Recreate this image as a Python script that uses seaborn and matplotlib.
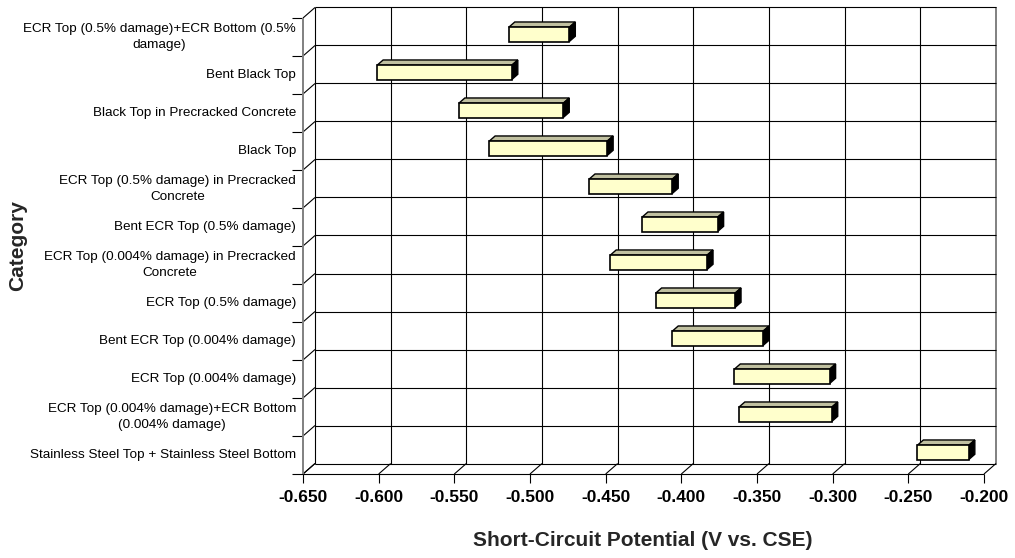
import numpy as np
import pandas as pd
import matplotlib
matplotlib.use("Agg")
import matplotlib.pyplot as plt
from matplotlib.patches import Polygon
import seaborn as sns

# ---------------- data ----------------
categories = [
    "ECR Top (0.5% damage)+ECR Bottom (0.5%\ndamage)",
    "Bent Black Top",
    "Black Top in Precracked Concrete",
    "Black Top",
    "ECR Top (0.5% damage) in Precracked\nConcrete",
    "Bent ECR Top (0.5% damage)",
    "ECR Top (0.004% damage) in Precracked\nConcrete",
    "ECR Top (0.5% damage)",
    "Bent ECR Top (0.004% damage)",
    "ECR Top (0.004% damage)",
    "ECR Top (0.004% damage)+ECR Bottom\n(0.004% damage)",
    "Stainless Steel Top + Stainless Steel Bottom",
]
low_values = [-0.516, -0.603, -0.549, -0.529, -0.463, -0.428,
              -0.449, -0.419, -0.408, -0.367, -0.364, -0.246]
high_values = [-0.476, -0.514, -0.480, -0.451, -0.408, -0.378,
               -0.385, -0.3665, -0.348, -0.304, -0.3026, -0.212]
x_ticks = [-0.65, -0.60, -0.55, -0.50, -0.45, -0.40, -0.35, -0.30, -0.25, -0.20]
x_tick_labels = ["-0.650", "-0.600", "-0.550", "-0.500", "-0.450",
                 "-0.400", "-0.350", "-0.300", "-0.250", "-0.200"]
x_title = "Short-Circuit Potential (V vs. CSE)"
y_title = "Category"

# ---------------- layout ----------------
W, H, DPI = 1015, 558, 100
DX, DY = 12.0, 10.5          # depth offset (px) from front to back wall
BAR_H = 0.376                # bar thickness in category units
FACE_D, BACK_D = 0.25, 0.75  # bar depth span

sns.set_theme(style="white")
plt.rcParams["font.family"] = ["Liberation Sans", "DejaVu Sans"]

fig = plt.figure(figsize=(W / DPI, H / DPI), dpi=DPI)
# axes = plane of bar front faces (depth 0.25)
fx0, fx1 = 303 + DX * FACE_D, 984 + DX * FACE_D
fy0, fy1 = 18 - DY * FACE_D, 474 - DY * FACE_D
ax = fig.add_axes([fx0 / W, 1 - fy1 / H, (fx1 - fx0) / W, (fy1 - fy0) / H])

df = pd.DataFrame({"category": categories, "low": low_values, "high": high_values})
df["span"] = df["high"] - df["low"]

sns.barplot(data=df, x="span", y="category", order=categories, orient="y",
            left=df["low"].values, width=BAR_H, color="#FFFFCC", saturation=1,
            edgecolor="black", linewidth=1.2, errorbar=None, ax=ax, zorder=6)

n = len(categories)
ax.set_xlim(x_ticks[0], x_ticks[-1])
ax.set_ylim(n - 0.5, -0.5)
ax.set_axis_off()


def P(x, y, d, px=0.0, py=0.0):
    disp = ax.transData.transform((x, y))
    disp = disp + np.array([DX * (d - FACE_D) + px, DY * (d - FACE_D) + py])
    return ax.transData.inverted().transform(disp)


def line(p, q, color="black", lw=0.8, z=1):
    ax.plot([p[0], q[0]], [p[1], q[1]], color=color, lw=lw, zorder=z,
            clip_on=False, solid_capstyle="butt")


xa, xb = x_ticks[0], x_ticks[-1]
ya, yb = -0.5, n - 0.5
bounds = np.arange(-0.5, n, 1.0)

# back wall grid
for xt in x_ticks:
    col, lw = ("#808080", 1.4) if xt == xb else ("black", 0.8)
    line(P(xt, ya, 1), P(xt, yb, 1), col, lw)
for yv in bounds:
    line(P(xa, yv, 1), P(xb, yv, 1), "black", 0.8)

# left wall
line(P(xa, ya, 0), P(xa, yb, 0), "#808080", 1.4, 2)
for yv in bounds:
    line(P(xa, yv, 0), P(xa, yv, 1), "black", 0.8)
    line(P(xa, yv, 0), P(xa, yv, 0, px=-11), "black", 0.8)

# floor
line(P(xa, yb, 0), P(xb, yb, 0), "black", 0.8, 2)
for xt in x_ticks:
    line(P(xt, yb, 0), P(xt, yb, 1), "black", 0.8)
    line(P(xt, yb, 0), P(xt, yb, 0, py=-9), "black", 0.8)

# 3D sides of the bars (from seaborn's bars)
for bar in list(ax.patches):
    x0, w = bar.get_x(), bar.get_width()
    y0, h = bar.get_y(), bar.get_height()
    x1, ytop = x0 + w, min(y0, y0 + h)
    ybot = max(y0, y0 + h)
    top = [P(x0, ytop, FACE_D), P(x1, ytop, FACE_D), P(x1, ytop, BACK_D), P(x0, ytop, BACK_D)]
    side = [P(x1, ytop, FACE_D), P(x1, ybot, FACE_D), P(x1, ybot, BACK_D), P(x1, ytop, BACK_D)]
    ax.add_patch(Polygon(top, closed=True, facecolor="#C0C0A0", edgecolor="black",
                         lw=1.0, zorder=4, clip_on=False))
    ax.add_patch(Polygon(side, closed=True, facecolor="#000000", edgecolor="black",
                         lw=1.0, zorder=4, clip_on=False))
    bar.set_clip_on(False)

# tick labels
for xt, lab in zip(x_ticks, x_tick_labels):
    p = P(xt, yb, 0, py=-23)
    ax.text(p[0], p[1], lab, ha="center", va="center", fontsize=12.5,
            fontweight="bold", color="black")
for i, lab in enumerate(categories):
    p = P(xa, i, 0, px=-7)
    ax.text(p[0], p[1], lab, ha="right", va="center", multialignment="center",
            fontsize=9.7, color="black", linespacing=1.35)

fig.text(643 / W, 1 - 540 / H, x_title, ha="center", va="center",
         fontsize=15, fontweight="bold")
fig.text(18 / W, 1 - 246 / H, y_title, ha="center", va="center", rotation=90,
         fontsize=15, fontweight="bold")

fig.savefig("out.png", dpi=DPI, facecolor="white")
